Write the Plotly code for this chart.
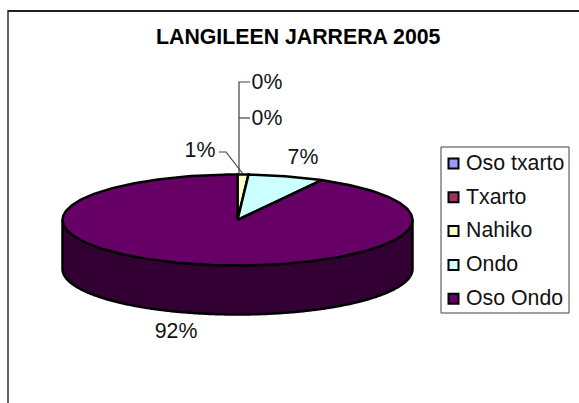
import numpy as np
import plotly.graph_objects as go

categories = ["Oso txarto", "Txarto", "Nahiko", "Ondo", "Oso Ondo"]
values = [0, 0, 1, 7, 92]

COLORS = ["#9999FF", "#993366", "#FFFFCC", "#CCFFFF", "#660066"]
SIDE_COLOR = "#330033"
CX, CY, RX, RY, DEPTH = 237.5, 220, 175, 45.5, 49
FONT = "Liberation Sans, Arial, sans-serif"
LABEL_POS = [(267, 84), (267, 120), (200, 152), (303, 158.5), (176, 333)]
LEG_MARK_X, LEG_TEXT_X, LEG_TOP, LEG_STEP = 453.5, 466, 163.5, 33.8


def pt(t):
    a = 2 * np.pi * np.asarray(t)
    return CX + RX * np.sin(a), CY - RY * np.cos(a)


fig = go.Figure()
total = sum(values)
fr = np.cumsum([0] + values) / total

# visible rim: the front half of the pie, coloured by the slice it belongs to
t = np.linspace(0.25, 0.75, 200)
x, y = pt(t)
fig.add_trace(go.Scatter(
    x=np.r_[x, x[::-1]], y=np.r_[y, y[::-1] + DEPTH], mode="none", fill="toself",
    fillcolor=SIDE_COLOR, hoverinfo="skip", showlegend=False))
fig.add_trace(go.Scatter(
    x=np.r_[x[-1], x[::-1], x[0]], y=np.r_[y[-1], y[::-1] + DEPTH, y[0]], mode="lines",
    line=dict(color="black", width=2.5, shape="spline", smoothing=0.3),
    hoverinfo="skip", showlegend=False))

# top face of every slice
for i, name in enumerate(categories):
    if values[i] == 0:
        continue
    t = np.linspace(fr[i], fr[i + 1], max(3, int(400 * (fr[i + 1] - fr[i]))))
    x, y = pt(t)
    fig.add_trace(go.Scatter(
        x=np.r_[CX, x, CX], y=np.r_[CY, y, CY], mode="lines", fill="toself",
        fillcolor=COLORS[i], line=dict(color="black", width=2.5), name=name, showlegend=False))

# percentage labels
fig.add_trace(go.Scatter(
    x=[p[0] for p in LABEL_POS], y=[p[1] for p in LABEL_POS], mode="text",
    text=[f"{round(100 * v / total)}%" for v in values],
    textfont=dict(family=FONT, size=21.3, color="#111111"), hoverinfo="skip", showlegend=False))

# leader lines
LINE = dict(color="#404040", width=1.2)
top_x, top_y = pt(0.0)
for xs, ys in [([250, 239, 239], [82, 82, top_y]),
               ([250, 239], [118, 118]),
               ([219, 226, 243], [152, 152, 174])]:
    fig.add_trace(go.Scatter(x=xs, y=ys, mode="lines", line=LINE, hoverinfo="skip", showlegend=False))

# legend
rows = [LEG_TOP + LEG_STEP * i for i in range(len(categories))]
fig.add_trace(go.Scatter(
    x=[LEG_MARK_X] * len(rows), y=rows, mode="markers",
    marker=dict(symbol="square", size=10, color=COLORS, line=dict(color="black", width=2)),
    hoverinfo="skip", showlegend=False))
fig.add_trace(go.Scatter(
    x=[LEG_TEXT_X] * len(rows), y=[r + 1 for r in rows], mode="text", text=categories,
    textposition="middle right",
    textfont=dict(family=FONT, size=21.3, color="#111111"), hoverinfo="skip", showlegend=False))

fig.update_layout(
    width=579, height=403, autosize=False, margin=dict(l=0, r=0, t=0, b=0),
    paper_bgcolor="white", plot_bgcolor="white", showlegend=False,
    xaxis=dict(range=[0, 579], visible=False, fixedrange=True),
    yaxis=dict(range=[403, 0], visible=False, fixedrange=True),
    shapes=[
        dict(type="line", x0=8, x1=579, y0=11, y1=11, line=dict(color="#202020", width=2)),
        dict(type="line", x0=8, x1=8, y0=10, y1=403, line=dict(color="#303030", width=1.5)),
        dict(type="rect", x0=441, x1=569, y0=147, y1=313, line=dict(color="#404040", width=1)),
    ],
    annotations=[dict(text="<b>LANGILEEN JARRERA 2005</b>", x=298.5, y=37, showarrow=False,
                      font=dict(family=FONT, size=21.3, color="black"))],
)
fig.write_html("out.html", config={"displayModeBar": False},
               post_script="document.body.style.margin='0';")
